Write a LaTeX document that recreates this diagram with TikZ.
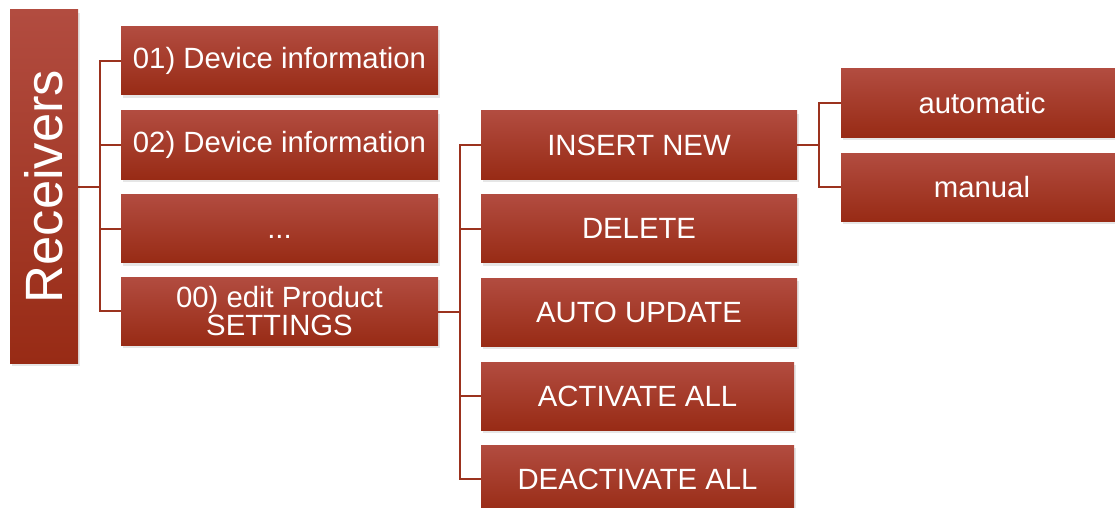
\documentclass[tikz,border=0pt]{standalone}
\usepackage{fontspec}
\setmainfont{Liberation Sans}
\usetikzlibrary{shadows}
\definecolor{topc}{RGB}{178,76,64}
\definecolor{botc}{RGB}{152,43,21}
\definecolor{conc}{RGB}{155,50,30}
\tikzset{
  box/.style={rectangle, inner sep=0pt, top color=topc, bottom color=botc, draw=none,
    text=white, align=center, font=\fontsize{29.3}{28}\selectfont,
    drop shadow={opacity=0.2, shadow xshift=2pt, shadow yshift=-3pt}},
  lone/.style={box, minimum width=317pt, minimum height=68pt},
  ltwo/.style={box, minimum width=316pt, minimum height=68pt},
  lthree/.style={box, minimum width=282pt, minimum height=68pt},
  conn/.style={draw=conc, line width=2pt},
}
\begin{document}
\begin{tikzpicture}[x=1pt, y=-1pt]
\useasboundingbox (0,0) rectangle (1115,508);
\begin{scope}
\clip (0,0) rectangle (1115,508);
\node[box, minimum width=68pt, minimum height=353pt, font=\fontsize{52.5}{52}\selectfont] (R) at (44,186.5) {\rotatebox{90}{Receivers}};

\node[lone] (A1) at (279.5,61) {01) Device information};
\node[lone] (A2) at (279.5,145) {02) Device information};
\node[lone] (A3) at (279.5,228.5) {\vphantom{D}...};
\node[lone] (A4) at (279.5,311) {00) edit Product\\SETTINGS};

\node[ltwo] (B1) at (639,145) {INSERT NEW};
\node[ltwo] (B2) at (639,228.5) {DELETE};
\node[ltwo] (B3) at (639,312) {AUTO UPDATE};
\node[box, minimum width=313pt, minimum height=68pt] (B4) at (637.5,396) {ACTIVATE ALL};
\node[box, minimum width=313pt, minimum height=68pt] (B5) at (637.5,479) {DEACTIVATE ALL};

\node[lthree] (C1) at (982,103) {automatic};
\node[lthree] (C2) at (982,187) {manual};

\coordinate (j1) at (100,187);
\coordinate (j2) at (460,312);
\coordinate (j3) at (819,145);

\draw[conn] (R.east |- j1) -- (j1);
\draw[conn] (A1.west) -| (j1 |- A4.west) -- (A4.west);
\draw[conn] (j1 |- A2.west) -- (A2.west);
\draw[conn] (j1 |- A3.west) -- (A3.west);

\draw[conn] (A4.east |- j2) -- (j2);
\draw[conn] (B1.west) -| (j2 |- B5.west) -- (B5.west);
\draw[conn] (j2 |- B2.west) -- (B2.west);
\draw[conn] (j2 |- B4.west) -- (B4.west);

\draw[conn] (B1.east) -- (j3);
\draw[conn] (C1.west) -| (j3 |- C2.west) -- (C2.west);
\end{scope}
\end{tikzpicture}
\end{document}
